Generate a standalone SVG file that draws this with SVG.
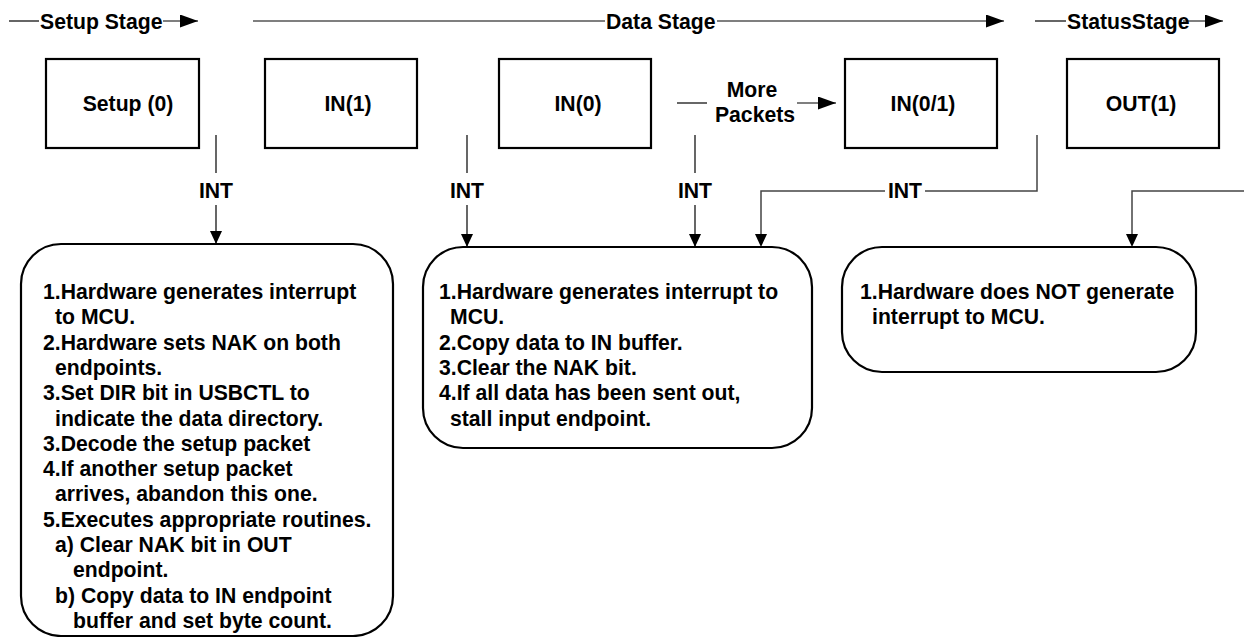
<svg xmlns="http://www.w3.org/2000/svg" width="1244" height="637" viewBox="0 0 1244 637">
<defs>
<style>
text{font-family:"Liberation Sans",Arial,Helvetica,sans-serif;font-weight:bold;font-size:21.2px;fill:#000}
.c{text-anchor:middle}
.box{fill:#fff;stroke:#000;stroke-width:2.2}
.ln{fill:none;stroke:#000;stroke-width:1.2}
.gl{fill:none;stroke:#444;stroke-width:1.5}
</style>
<marker id="ah" viewBox="0 0 10 10" refX="10" refY="5" markerWidth="13" markerHeight="12" markerUnits="userSpaceOnUse" orient="auto" preserveAspectRatio="none"><path d="M0,0 L10,5 L0,10 z" fill="#000"/></marker>
<marker id="ahs" viewBox="0 0 10 10" refX="10" refY="5" markerWidth="18" markerHeight="13" markerUnits="userSpaceOnUse" orient="auto" preserveAspectRatio="none"><path d="M0,0 L10,5 L0,10 z" fill="#000"/></marker>
</defs>
<rect width="1244" height="637" fill="#fff"/>
<g id="stages">
<line class="ln" x1="9" y1="21" x2="39" y2="21"/>
<text x="40" y="28.5">Setup Stage</text>
<line class="ln" x1="163" y1="21" x2="198" y2="21" marker-end="url(#ahs)"/>
<line class="ln" x1="253" y1="21" x2="605" y2="21"/>
<text x="606" y="28.5">Data Stage</text>
<line class="ln" x1="717" y1="21" x2="1004" y2="21" marker-end="url(#ahs)"/>
<line class="ln" x1="1035" y1="21" x2="1066" y2="21"/>
<text x="1067" y="28.5">StatusStage</text>
<line class="ln" x1="1183" y1="21" x2="1223" y2="21" marker-end="url(#ahs)"/>
</g>
<g id="n-setup"><rect class="box" x="46" y="59" width="153" height="89"/><text class="c" x="128" y="111">Setup (0)</text></g>
<g id="n-in1"><rect class="box" x="265" y="59" width="152" height="89"/><text class="c" x="348" y="111">IN(1)</text></g>
<g id="n-in0"><rect class="box" x="499" y="59" width="152" height="89"/><text class="c" x="578" y="111">IN(0)</text></g>
<g id="n-in01"><rect class="box" x="845" y="59" width="152" height="89"/><text class="c" x="923" y="111">IN(0/1)</text></g>
<g id="n-out1"><rect class="box" x="1067" y="59" width="152" height="89"/><text class="c" x="1141" y="111">OUT(1)</text></g>
<g id="connectors">
<line class="ln" x1="216" y1="135" x2="216" y2="173"/>
<line class="ln" x1="216" y1="205" x2="216" y2="244" marker-end="url(#ah)"/>
<line class="ln" x1="467" y1="135" x2="467" y2="173"/>
<line class="ln" x1="467" y1="205" x2="467" y2="247" marker-end="url(#ah)"/>
<line class="ln" x1="695" y1="135" x2="695" y2="173"/>
<line class="ln" x1="695" y1="205" x2="695" y2="247" marker-end="url(#ah)"/>
<polyline class="gl" points="1037,135 1037,191 925,191"/>
<polyline class="gl" points="885,191 761,191 761,236"/>
<path d="M755,234 L767,234 L761,247 z" fill="#000"/>
<polyline class="gl" points="1244,191 1132,191 1132,236"/>
<path d="M1126,234 L1138,234 L1132,247 z" fill="#000"/>
<line class="ln" x1="677" y1="103" x2="707" y2="103"/>
<line class="ln" x1="797" y1="103" x2="836" y2="103" marker-end="url(#ahs)"/>
<text class="c" x="216" y="197.5">INT</text>
<text class="c" x="467" y="197.5">INT</text>
<text class="c" x="695" y="197.5">INT</text>
<text class="c" x="905" y="197.5">INT</text>
<text class="c" x="752" y="97">More</text>
<text class="c" x="755" y="122">Packets</text>
</g>
<g id="n-setup-desc">
<rect class="box" x="21" y="244" width="372" height="392" rx="40" ry="40"/>
<text x="43" y="299">1.Hardware generates interrupt</text>
<text x="55" y="324.3">to MCU.</text>
<text x="43" y="349.6">2.Hardware sets NAK on both</text>
<text x="55" y="374.9">endpoints.</text>
<text x="43" y="400.2">3.Set DIR bit in USBCTL to</text>
<text x="55" y="425.5">indicate the data directory.</text>
<text x="43" y="450.8">3.Decode the setup packet</text>
<text x="43" y="476.1">4.If another setup packet</text>
<text x="55" y="501.4">arrives, abandon this one.</text>
<text x="43" y="526.7">5.Executes appropriate routines.</text>
<text x="55" y="552">a) Clear NAK bit in OUT</text>
<text x="73" y="577.3">endpoint.</text>
<text x="55" y="602.6">b) Copy data to IN endpoint</text>
<text x="73" y="627.9">buffer and set byte count.</text>
</g>
<g id="n-data-desc">
<rect class="box" x="423" y="247" width="389" height="201" rx="40" ry="40"/>
<text x="439" y="299">1.Hardware generates interrupt to</text>
<text x="450" y="324.3">MCU.</text>
<text x="439" y="349.6">2.Copy data to IN buffer.</text>
<text x="439" y="374.9">3.Clear the NAK bit.</text>
<text x="439" y="400.2">4.If all data has been sent out,</text>
<text x="450" y="425.5">stall input endpoint.</text>
</g>
<g id="n-status-desc">
<rect class="box" x="842" y="247" width="354" height="125" rx="40" ry="40"/>
<text x="860" y="299">1.Hardware does NOT generate</text>
<text x="872" y="324.3">interrupt to MCU.</text>
</g>
</svg>
